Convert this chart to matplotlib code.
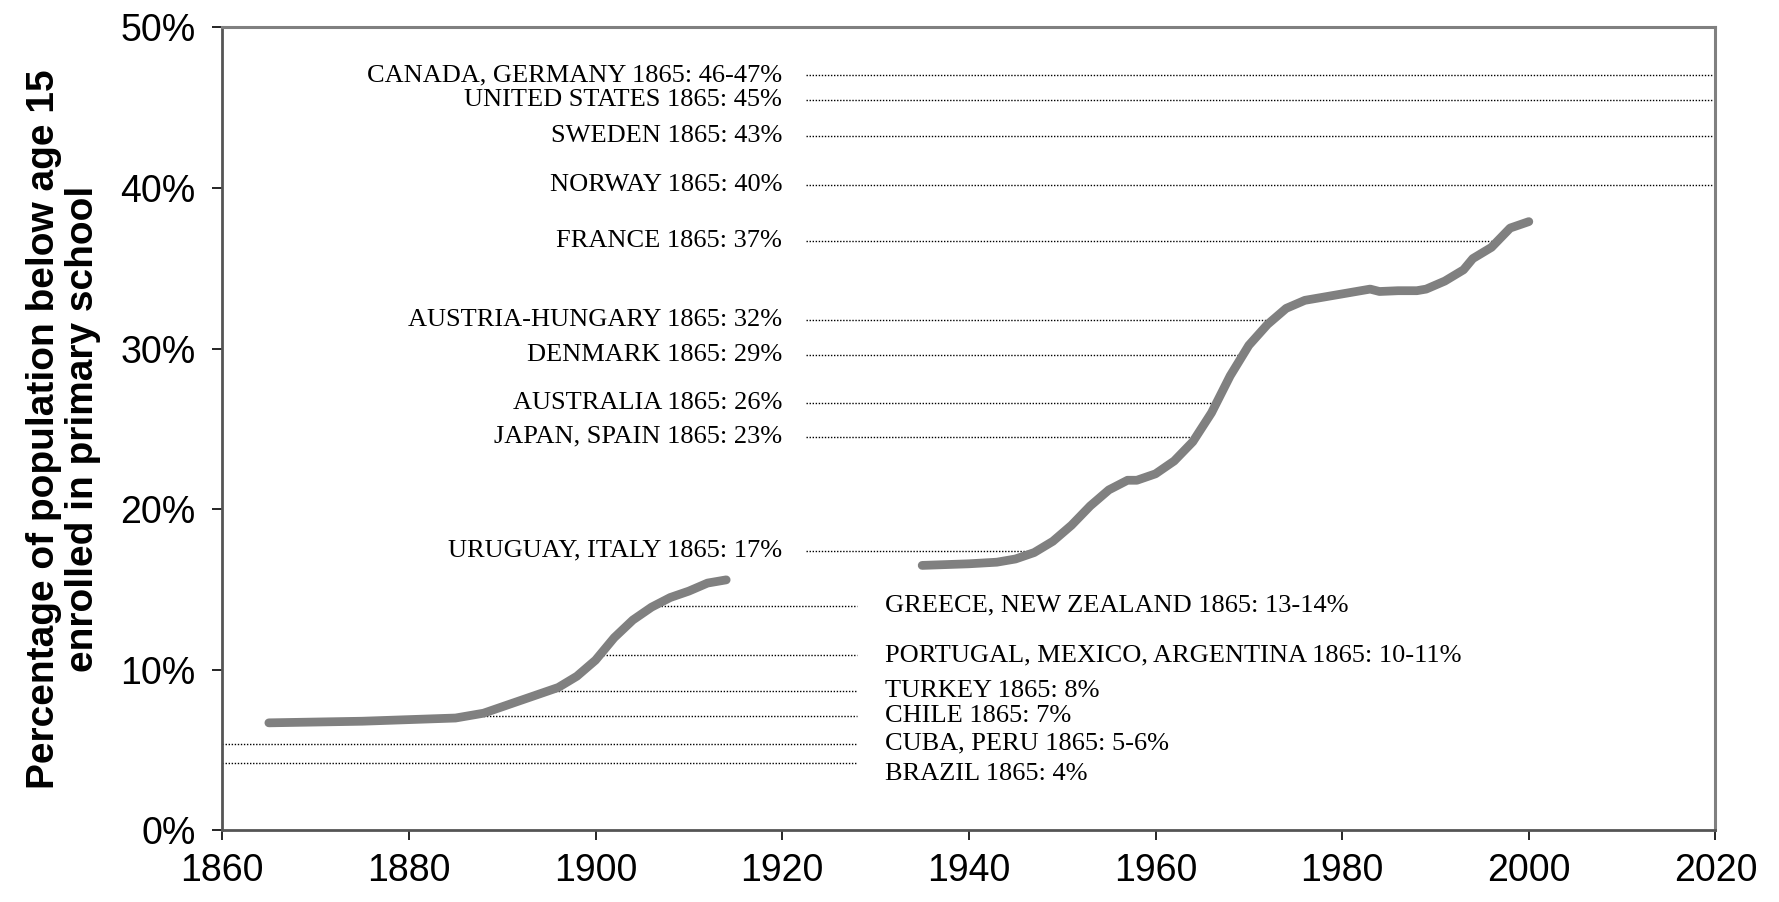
import matplotlib
matplotlib.use('Agg')
import matplotlib.pyplot as plt
import numpy as np

# enrolment share
early_years = [1865, 1870, 1875, 1880, 1885, 1888, 1890, 1893, 1896, 1898, 1900,
               1902, 1904, 1906, 1908, 1910, 1912, 1914]
early_pct = [6.7, 6.75, 6.8, 6.9, 7.0, 7.3, 7.7, 8.3, 8.9, 9.6, 10.6,
             12.0, 13.1, 13.9, 14.5, 14.9, 15.4, 15.6]

late_years = [1935, 1940, 1943, 1945, 1947, 1949, 1951, 1953, 1955, 1957, 1958,
              1960, 1962, 1964, 1966, 1968, 1970, 1972, 1974, 1976, 1978, 1980,
              1982, 1983, 1984, 1986, 1988, 1989, 1991, 1993, 1994, 1996, 1997,
              1998, 2000]
late_pct = [16.5, 16.6, 16.7, 16.9, 17.3, 18.0, 19.0, 20.2, 21.2, 21.8, 21.8,
            22.2, 23.0, 24.2, 26.0, 28.3, 30.2, 31.5, 32.5, 33.0, 33.2, 33.4,
            33.6, 33.7, 33.55, 33.6, 33.6, 33.7, 34.2, 34.9, 35.6, 36.3, 36.9,
            37.5, 37.9]

# 1865 levels of other countries (upper group labelled on the left)
upper_labels = ['CANADA, GERMANY 1865: 46-47%', 'UNITED STATES 1865: 45%',
                'SWEDEN 1865: 43%', 'NORWAY 1865: 40%', 'FRANCE 1865: 37%',
                'AUSTRIA-HUNGARY 1865: 32%', 'DENMARK 1865: 29%',
                'AUSTRALIA 1865: 26%', 'JAPAN, SPAIN 1865: 23%',
                'URUGUAY, ITALY 1865: 17%']
upper_pct = [47.0, 45.5, 43.2, 40.2, 36.7, 31.8, 29.6, 26.6, 24.5, 17.4]

lower_labels = ['GREECE, NEW ZEALAND 1865: 13-14%',
                'PORTUGAL, MEXICO, ARGENTINA 1865: 10-11%',
                'TURKEY 1865: 8%', 'CHILE 1865: 7%', 'CUBA, PERU 1865: 5-6%',
                'BRAZIL 1865: 4%']
lower_pct = [14.0, 10.9, 8.7, 7.1, 5.4, 4.2]

plt.rcParams['font.family'] = ['Liberation Sans', 'DejaVu Sans']
fig = plt.figure(figsize=(17.79, 9.02), dpi=100)
ax = fig.add_axes([0.1249, 0.0793, 0.8394, 0.8905])

line_kw = dict(color='black', linestyle=(0, (1, 1.2)), linewidth=1.0)
serif = dict(family=['Liberation Serif', 'DejaVu Serif'], fontsize=19)

# upper reference lines run from the labels to where the modern series reaches them
late_mono = np.maximum.accumulate(late_pct)
for lab, v in zip(upper_labels, upper_pct):
    end = np.interp(v, late_mono, late_years) if v <= late_mono[-1] else 2020
    ax.hlines(v, 1922.5, end, **line_kw)
    ax.text(1920, v, lab, ha='right', va='center', **serif)

# lower ones run from the early series (or the axis) out to their labels
early_mono = np.maximum.accumulate(early_pct)
for lab, v in zip(lower_labels, lower_pct):
    start = np.interp(v, early_mono, early_years) if v >= early_pct[0] else 1860
    ax.hlines(v, start, 1928, **line_kw)
    dy = -11 if v < 5 else 0
    ax.annotate(lab, (1931, v), xytext=(0, dy), textcoords='offset pixels',
                ha='left', va='center', **serif)

for yrs, pct in [(early_years, early_pct), (late_years, late_pct)]:
    ax.plot(yrs, pct, color='#808080', linewidth=6.3,
            solid_capstyle='round', solid_joinstyle='round')

ax.set_xlim(1860, 2020)
ax.set_ylim(0, 50)
ax.set_xticks(range(1860, 2021, 20))
ax.set_yticks(range(0, 51, 10))
ax.set_yticklabels([f'{t}%' for t in range(0, 51, 10)])
ax.tick_params(axis='both', labelsize=27, length=7, width=1.2, color='black')
ax.tick_params(axis='y', pad=12)
ax.tick_params(axis='x', pad=9)

for s in ['top', 'right']:
    ax.spines[s].set_color('#808080')
    ax.spines[s].set_linewidth(2.2)
for s in ['left', 'bottom']:
    ax.spines[s].set_color('#555555')
    ax.spines[s].set_linewidth(2.0)

ax.set_ylabel('Percentage of population below age 15\nenrolled in primary school',
              fontsize=28, fontweight='bold', linespacing=1.1, labelpad=14)

fig.savefig('out.png', dpi=100)
